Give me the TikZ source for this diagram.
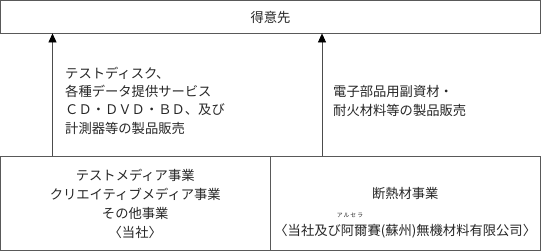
\documentclass[tikz,border=0pt]{standalone}
\usepackage{fontspec}
\newfontfamily\jp{Noto Sans CJK JP}
\usetikzlibrary{arrows.meta}
\tikzset{
  frame/.style={draw=black!65, line width=0.8pt, inner sep=0pt},
  txt/.style={font=\jp\fontsize{13.3}{18.3}\selectfont, text=black!85, inner sep=0pt},
  arr/.style={draw=black!70, line width=0.7pt, -{Triangle[width=8pt,length=9pt,color=black]}},
}
\begin{document}
\begin{tikzpicture}[x=1pt,y=-1pt]
\useasboundingbox (0,0) rectangle (541,251);
% boxes
\node[frame, minimum width=540pt, minimum height=32.5pt] (top) at (270.5,16.75) {};
\node[frame, minimum width=269.5pt, minimum height=94.5pt] (bl) at (135.25,203.25) {};
\node[frame, minimum width=270.5pt, minimum height=94.5pt] (br) at (405.25,203.25) {};
% texts
\node[txt] (ttop) at (270.5,17) {得意先};
\node[txt, align=center, font=\jp\fontsize{13.3}{19}\selectfont] (tbl) at (135.25,203.5)
  {テストメディア事業\\クリエイティブメディア事業\\その他事業\\\kern-.5em〈当社〉\kern-.5em};
\node[txt] (tbr1) at (405.25,193) {断熱材事業};
\node[txt] (tbr2) at (405.25,231) {\kern-.5em〈当社及び阿爾賽(蘇州)無機材料有限公司〉\kern-.5em};
\node[txt, font=\jp\fontsize{5.8}{6}\selectfont] (ruby) at (350,215) {ア\kern1pt ル\kern1pt セ\kern1pt ラ};
\node[txt, anchor=west, align=left] (lab1) at (65,100.5)
  {テストディスク、\\各種データ提供サービス\\ＣＤ・ＤＶＤ・ＢＤ、及び\\計測器等の製品販売};
\node[txt, anchor=west, align=left] (lab2) at (333,101)
  {電子部品用副資材・\\耐火材料等の製品販売};
% arrows
\coordinate (ax1) at (52.5,0);
\coordinate (ax2) at (322,0);
\draw[arr] (bl.north -| ax1) -- (top.south -| ax1);
\draw[arr] (br.north -| ax2) -- (top.south -| ax2);
\end{tikzpicture}
\end{document}
